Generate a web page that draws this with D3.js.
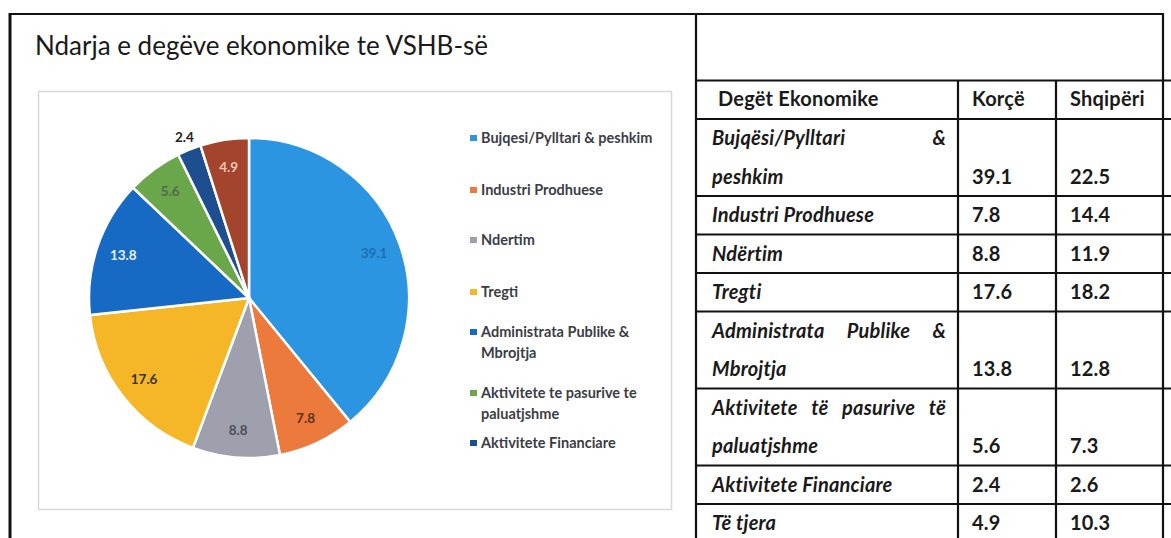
<!DOCTYPE html>
<html>
<head>
<meta charset="utf-8">
<script src="https://cdn.jsdelivr.net/npm/d3@7"></script>
<style>
  body { margin: 0; background: #fff; }
  svg { display: block; }
</style>
</head>
<body>
<div id="chart"></div>
<script>
// pie data (Korçë)
var pieValues = [39.1, 7.8, 8.8, 17.6, 13.8, 5.6, 2.4, 4.9];
var pieColors = ['#2b95e2', '#ec7a3c', '#9fa0ae', '#f5b727', '#176ac3', '#6aa64a', '#1d4f90', '#a2452c'];
var labelColors = ['#1f6fae', '#5a3422', '#4e4e58', '#3a3428', '#e8eef8', '#55684a', '#222222', '#f1c6b6'];

var legendLabels = ['Bujqesi/Pylltari & peshkim', 'Industri Prodhuese', 'Ndertim', 'Tregti',
                    'Administrata Publike & Mbrojtja', 'Aktivitete te pasurive te paluatjshme', 'Aktivitete Financiare'];

// table data
var tableHeader = ['Degët Ekonomike', 'Korçë', 'Shqipëri'];
var tableLabels = [
  ['Bujqësi/Pylltari &', 'peshkim'],
  ['Industri Prodhuese'],
  ['Ndërtim'],
  ['Tregti'],
  ['Administrata Publike &', 'Mbrojtja'],
  ['Aktivitete të pasurive të', 'paluatjshme'],
  ['Aktivitete Financiare'],
  ['Të tjera']
];
var korce = ['39.1', '7.8', '8.8', '17.6', '13.8', '5.6', '2.4', '4.9'];
var shqiperi = ['22.5', '14.4', '11.9', '18.2', '12.8', '7.3', '2.6', '10.3'];

var W = 1171, H = 538;
var svg = d3.select('#chart').append('svg').attr('width', W).attr('height', H);
svg.append('rect').attr('width', W).attr('height', H).attr('fill', '#fff');

// ---- left panel ----
svg.append('text')
   .attr('x', 35).attr('y', 55)
   .style('font-family', 'Lato, sans-serif')
   .style('font-size', '26px')
   .attr('fill', '#1a1a1a')
   .text('Ndarja e degëve ekonomike te VSHB-së');

svg.append('rect')
   .attr('x', 38.5).attr('y', 91.5).attr('width', 633).attr('height', 418)
   .attr('fill', '#fff').attr('stroke', '#d8d8d8').attr('stroke-width', 1.5);

var r = 160;
var pieG = svg.append('g').attr('transform', 'translate(249,298)');
var pie = d3.pie().sort(null).value(function(d) { return d; });
var arcs = pie(pieValues);
var arc = d3.arc().innerRadius(0).outerRadius(r);

pieG.selectAll('path.slice')
    .data(arcs)
    .enter().append('path')
    .attr('class', 'slice')
    .attr('d', arc)
    .attr('fill', function(d, i) { return pieColors[i]; })
    .attr('stroke', '#fff')
    .attr('stroke-width', 2.5);

pieG.selectAll('text.lbl')
    .data(arcs)
    .enter().append('text')
    .attr('class', 'lbl')
    .attr('transform', function(d) {
      var rr = d.value < 3 ? r * 1.08 : r * 0.83;
      var c = d3.arc().innerRadius(rr).outerRadius(rr).centroid(d);
      return 'translate(' + c[0] + ',' + c[1] + ')';
    })
    .attr('text-anchor', 'middle')
    .attr('dy', '0.35em')
    .style('font-family', 'Lato, sans-serif')
    .style('font-size', '13.5px')
    .style('font-weight', 'bold')
    .attr('fill', function(d, i) { return labelColors[i]; })
    .text(function(d) { return d.value; });

// legend
var legendY = [138, 190, 240, 292, 332, 393, 443];
var legendLines = [[legendLabels[0]], [legendLabels[1]], [legendLabels[2]], [legendLabels[3]],
                   ['Administrata Publike &', 'Mbrojtja'], ['Aktivitete te pasurive te', 'paluatjshme'], [legendLabels[6]]];
var legend = svg.append('g');
legendLines.forEach(function(lines, i) {
  legend.append('rect')
        .attr('x', 470).attr('y', legendY[i] - 3).attr('width', 7).attr('height', 6)
        .attr('fill', pieColors[i]);
  lines.forEach(function(line, j) {
    legend.append('text')
          .attr('x', 481).attr('y', legendY[i] + j * 21)
          .attr('dy', '0.35em')
          .style('font-family', 'Lato, sans-serif')
          .style('font-size', '14.5px')
          .style('font-weight', 'bold')
          .attr('fill', '#3b3d46')
          .text(line);
  });
});

// ---- table ----
var colX = [696, 958, 1056, 1163];
var unit = 38.5;
var rowTops = [119];
tableLabels.forEach(function(lines) { rowTops.push(rowTops[rowTops.length - 1] + lines.length * unit); });

var tbl = svg.append('g');
var lineStyle = function(sel) { return sel.attr('stroke', '#111').attr('stroke-width', 2.2); };

// outer frame lines
lineStyle(tbl.append('line').attr('x1', 9).attr('x2', 1163).attr('y1', 14).attr('y2', 14));
lineStyle(tbl.append('line').attr('x1', 10).attr('x2', 10).attr('y1', 13).attr('y2', H)).attr('stroke-width', 3);
lineStyle(tbl.append('line').attr('x1', colX[0]).attr('x2', colX[0]).attr('y1', 13).attr('y2', H));
lineStyle(tbl.append('line').attr('x1', colX[3]).attr('x2', colX[3]).attr('y1', 13).attr('y2', H));
lineStyle(tbl.append('line').attr('x1', colX[0]).attr('x2', W).attr('y1', 80.5).attr('y2', 80.5));
[colX[1], colX[2]].forEach(function(x) {
  lineStyle(tbl.append('line').attr('x1', x).attr('x2', x).attr('y1', 80).attr('y2', H));
});
rowTops.forEach(function(y) {
  lineStyle(tbl.append('line').attr('x1', colX[0]).attr('x2', W).attr('y1', y).attr('y2', y));
});

var font = function(sel, italic) {
  return sel.style('font-family', 'Lato, sans-serif')
            .style('font-size', '20px')
            .style('letter-spacing', '0.2px')
            .style('font-weight', 'bold')
            .style('font-style', italic ? 'italic' : 'normal')
            .attr('fill', '#1a1a1a');
};

// header
font(tbl.append('text').attr('x', 718).attr('y', 106).text(tableHeader[0]));
font(tbl.append('text').attr('x', 972).attr('y', 106).text(tableHeader[1]));
font(tbl.append('text').attr('x', 1070).attr('y', 106).text(tableHeader[2]));

// rows
var cellLeft = 712, cellRight = 946;
tableLabels.forEach(function(lines, i) {
  var top = rowTops[i];
  lines.forEach(function(line, j) {
    var y = top + 26 + j * unit;
    var justify = lines.length > 1 && j < lines.length - 1;
    if (!justify) {
      font(tbl.append('text').attr('x', cellLeft).attr('y', y).text(line), true);
    } else {
      var words = line.split(' ');
      var nodes = words.map(function(w) {
        return font(tbl.append('text').attr('y', y).text(w), true);
      });
      var widths = nodes.map(function(n) { return n.node().getComputedTextLength(); });
      var total = d3.sum(widths);
      var gap = (cellRight - cellLeft - total) / (words.length - 1);
      var x = cellLeft;
      nodes.forEach(function(n, k) { n.attr('x', x); x += widths[k] + gap; });
    }
  });
  var vy = top + 26 + (lines.length - 1) * unit;
  font(tbl.append('text').attr('x', 972).attr('y', vy).text(korce[i]));
  font(tbl.append('text').attr('x', 1070).attr('y', vy).text(shqiperi[i]));
});
</script>
</body>
</html>
